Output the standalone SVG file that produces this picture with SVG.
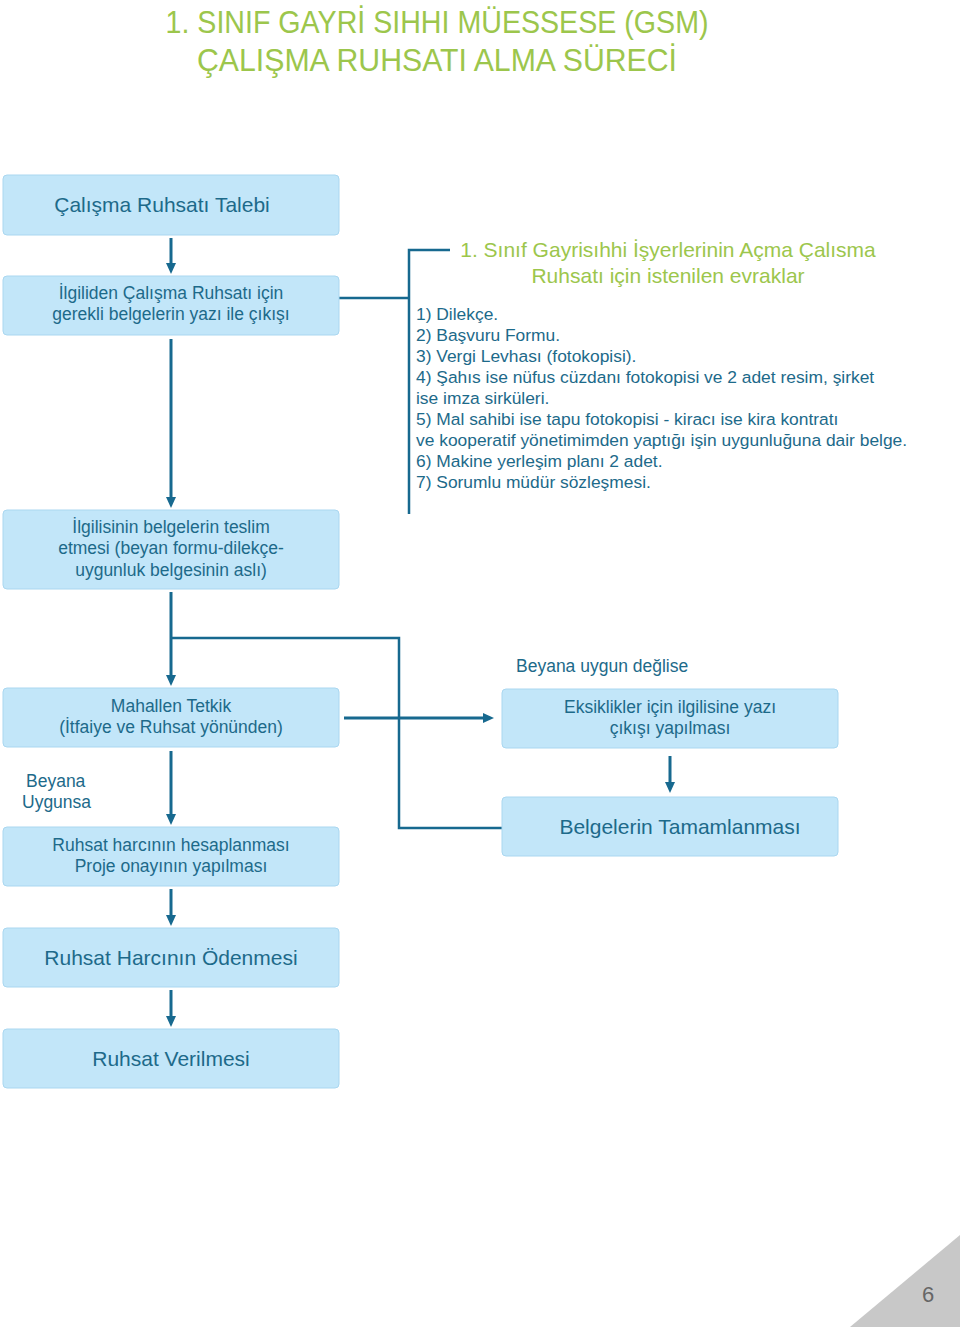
<svg xmlns="http://www.w3.org/2000/svg" width="960" height="1327" viewBox="0 0 960 1327">
<style>
.box{fill:#c2e6f9;stroke:#aad7f0;stroke-width:1}
.t{font-family:"Liberation Sans",Arial,sans-serif;fill:#1d6a8a;text-anchor:middle}
.s{font-size:17.5px}
.l{font-size:21px}
.li{font-family:"Liberation Sans",Arial,sans-serif;fill:#1d6a8a;font-size:17.4px}
.g{font-family:"Liberation Sans",Arial,sans-serif;fill:#9cc64c;text-anchor:middle}
.c{fill:none;stroke:#17698f;stroke-width:3}
</style>
<defs>
<marker id="ah" markerWidth="11" markerHeight="10" refX="5" refY="5" orient="auto" markerUnits="userSpaceOnUse" viewBox="0 0 11 10">
<path d="M0,0 L11,5 L0,10 Z" fill="#17698f"/>
</marker>
</defs>
<rect width="960" height="1327" fill="#fff"/>
<g id="title">
<text class="g" x="437" y="33" font-size="31" textLength="543" lengthAdjust="spacingAndGlyphs">1. SINIF GAYRİ SIHHI MÜESSESE (GSM)</text>
<text class="g" x="437" y="71" font-size="31" textLength="480" lengthAdjust="spacingAndGlyphs">ÇALIŞMA RUHSATI ALMA SÜRECİ</text>
</g>
<g id="connectors">
<line class="c" x1="171" y1="238" x2="171" y2="268" marker-end="url(#ah)"/>
<line class="c" x1="171" y1="339" x2="171" y2="502" marker-end="url(#ah)"/>
<line class="c" x1="171" y1="592" x2="171" y2="680" marker-end="url(#ah)"/>
<polyline class="c" points="171,638 399,638 399,828 502,828" style="stroke-width:2.5"/>
<line class="c" x1="344" y1="718" x2="488" y2="718" marker-end="url(#ah)"/>
<line class="c" x1="171" y1="751" x2="171" y2="819" marker-end="url(#ah)"/>
<line class="c" x1="171" y1="889" x2="171" y2="920" marker-end="url(#ah)"/>
<line class="c" x1="171" y1="990" x2="171" y2="1021" marker-end="url(#ah)"/>
<line class="c" x1="670" y1="756" x2="670" y2="787" marker-end="url(#ah)"/>
<polyline class="c" points="339,298 409,298" style="stroke-width:2.5"/>
<polyline class="c" points="450,250 409,250 409,514" style="stroke-width:2.5"/>
</g>
<g id="n1"><rect class="box" x="3" y="175" width="336" height="60" rx="4"/><text class="t l" x="162" y="212">Çalışma Ruhsatı Talebi</text></g>
<g id="n2"><rect class="box" x="3" y="276" width="336" height="59" rx="4"/><text class="t s" x="171" y="299">İlgiliden Çalışma Ruhsatı için</text><text class="t s" x="171" y="320">gerekli belgelerin yazı ile çıkışı</text></g>
<g id="n3"><rect class="box" x="3" y="510" width="336" height="79" rx="4"/><text class="t s" x="171" y="533">İlgilisinin belgelerin teslim</text><text class="t s" x="171" y="554">etmesi (beyan formu-dilekçe-</text><text class="t s" x="171" y="576">uygunluk belgesinin aslı)</text></g>
<g id="n4"><rect class="box" x="3" y="688" width="336" height="59" rx="4"/><text class="t s" x="171" y="712">Mahallen Tetkik</text><text class="t s" x="171" y="733">(İtfaiye ve Ruhsat yönünden)</text></g>
<g id="n5"><rect class="box" x="3" y="827" width="336" height="59" rx="4"/><text class="t s" x="171" y="851">Ruhsat harcının hesaplanması</text><text class="t s" x="171" y="872">Proje onayının yapılması</text></g>
<g id="n6"><rect class="box" x="3" y="928" width="336" height="59" rx="4"/><text class="t l" x="171" y="965">Ruhsat Harcının Ödenmesi</text></g>
<g id="n7"><rect class="box" x="3" y="1029" width="336" height="59" rx="4"/><text class="t l" x="171" y="1066">Ruhsat Verilmesi</text></g>
<g id="n8"><rect class="box" x="502" y="689" width="336" height="59" rx="4"/><text class="t s" x="670" y="713">Eksiklikler için ilgilisine yazı</text><text class="t s" x="670" y="734">çıkışı yapılması</text></g>
<g id="n9"><rect class="box" x="502" y="797" width="336" height="59" rx="4"/><text class="t l" x="680" y="834">Belgelerin Tamamlanması</text></g>
<g id="labels">
<text class="t s" x="516" y="672" style="text-anchor:start">Beyana uygun değlise</text>
<text class="t s" x="26" y="787" style="text-anchor:start">Beyana</text>
<text class="t s" x="22" y="808" style="text-anchor:start">Uygunsa</text>
</g>
<g id="list">
<text class="g" x="668" y="257" font-size="21">1. Sınıf Gayrisıhhi İşyerlerinin Açma Çalısma</text>
<text class="g" x="668" y="283" font-size="21">Ruhsatı için istenilen evraklar</text>
<text class="li" x="416" y="320">1) Dilekçe.</text>
<text class="li" x="416" y="341">2) Başvuru Formu.</text>
<text class="li" x="416" y="362">3) Vergi Levhası (fotokopisi).</text>
<text class="li" x="416" y="383">4) Şahıs ise nüfus cüzdanı fotokopisi ve 2 adet resim, şirket</text>
<text class="li" x="416" y="404">ise imza sirküleri.</text>
<text class="li" x="416" y="425">5) Mal sahibi ise tapu fotokopisi - kiracı ise kira kontratı</text>
<text class="li" x="416" y="446">ve kooperatif yönetimimden yaptığı işin uygunluğuna dair belge.</text>
<text class="li" x="416" y="467">6) Makine yerleşim planı 2 adet.</text>
<text class="li" x="416" y="488">7) Sorumlu müdür sözleşmesi.</text>
</g>
<g id="page">
<polygon points="850,1327 960,1235 960,1327" fill="#c8c8c8"/>
<text x="928" y="1302" font-family="'Liberation Sans',Arial,sans-serif" font-size="22" fill="#666" text-anchor="middle">6</text>
</g>
</svg>
